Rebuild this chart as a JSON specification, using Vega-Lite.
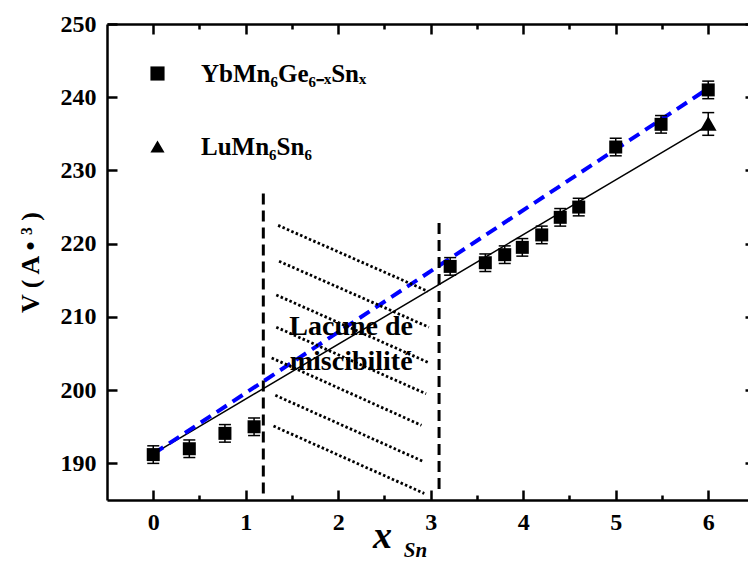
{
  "$schema": "https://vega.github.io/schema/vega-lite/v6.json",
  "width": 641,
  "height": 476,
  "autosize": "none",
  "padding": {"left": 107, "top": 24, "right": 0, "bottom": 62},
  "background": "white",
  "config": {
    "view": {"stroke": null},
    "font": "Liberation Serif",
    "axis": {
      "domainColor": "black",
      "domainWidth": 2.5,
      "tickColor": "black",
      "tickWidth": 2.5,
      "labelFont": "Liberation Serif",
      "labelFontWeight": "bold",
      "labelFontSize": 24,
      "labelColor": "black",
      "grid": false,
      "titleColor": "black",
      "titleFont": "Liberation Serif"
    }
  },
  "datasets": {
    "pts": [
      {"x": 0, "y": 191.2, "lo": 190.0, "hi": 192.4, "s": "YbMn₆Ge₆₋ₓSnₓ"},
      {"x": 0.39, "y": 192.0, "lo": 190.8, "hi": 193.2, "s": "YbMn₆Ge₆₋ₓSnₓ"},
      {"x": 0.775, "y": 194.1, "lo": 192.9, "hi": 195.3, "s": "YbMn₆Ge₆₋ₓSnₓ"},
      {"x": 1.09, "y": 195.0, "lo": 193.8, "hi": 196.2, "s": "YbMn₆Ge₆₋ₓSnₓ"},
      {"x": 3.21, "y": 216.9, "lo": 215.7, "hi": 218.1, "s": "YbMn₆Ge₆₋ₓSnₓ"},
      {"x": 3.59, "y": 217.4, "lo": 216.2, "hi": 218.6, "s": "YbMn₆Ge₆₋ₓSnₓ"},
      {"x": 3.8, "y": 218.5, "lo": 217.3, "hi": 219.7, "s": "YbMn₆Ge₆₋ₓSnₓ"},
      {"x": 3.99, "y": 219.5, "lo": 218.3, "hi": 220.7, "s": "YbMn₆Ge₆₋ₓSnₓ"},
      {"x": 4.2, "y": 221.2, "lo": 220.0, "hi": 222.4, "s": "YbMn₆Ge₆₋ₓSnₓ"},
      {"x": 4.4, "y": 223.6, "lo": 222.4, "hi": 224.8, "s": "YbMn₆Ge₆₋ₓSnₓ"},
      {"x": 4.6, "y": 225.0, "lo": 223.8, "hi": 226.2, "s": "YbMn₆Ge₆₋ₓSnₓ"},
      {"x": 5.0, "y": 233.2, "lo": 232.0, "hi": 234.4, "s": "YbMn₆Ge₆₋ₓSnₓ"},
      {"x": 5.49, "y": 236.3, "lo": 235.1, "hi": 237.5, "s": "YbMn₆Ge₆₋ₓSnₓ"},
      {"x": 6.0, "y": 241.0, "lo": 239.8, "hi": 242.2, "s": "YbMn₆Ge₆₋ₓSnₓ"},
      {"x": 6.0, "y": 236.4, "lo": 234.8, "hi": 237.9, "s": "LuMn₆Sn₆"}
    ],
    "blue": [{"x": 0, "y": 191.3}, {"x": 6, "y": 241.2}],
    "black": [{"x": 0, "y": 191.3}, {"x": 6, "y": 236.2}],
    "vlines": [
      {"x": 1.19, "y": 185.9, "y2": 226.9},
      {"x": 3.09, "y": 186.5, "y2": 223.1}
    ],
    "hatch": [
      {"x": 1.35, "y": 222.5, "x2": 2.97, "y2": 213.5},
      {"x": 1.36, "y": 217.6, "x2": 2.98, "y2": 208.6},
      {"x": 1.33, "y": 213.0, "x2": 2.97, "y2": 203.8},
      {"x": 1.33, "y": 208.6, "x2": 2.95, "y2": 199.5},
      {"x": 1.28, "y": 204.4, "x2": 2.90, "y2": 195.2},
      {"x": 1.32, "y": 199.3, "x2": 2.93, "y2": 190.2},
      {"x": 1.30, "y": 195.1, "x2": 2.93, "y2": 185.9}
    ],
    "notes": [
      {"x": 2.14, "y": 208.6, "t": "Lacune de"},
      {"x": 2.14, "y": 203.8, "t": "miscibilité"}
    ]
  },
  "layer": [
    {
      "layer": [
        {
          "data": {"name": "black"},
          "mark": {"type": "line", "color": "black", "strokeWidth": 1.5},
          "encoding": {
            "x": {
              "field": "x", "type": "quantitative",
              "scale": {"domain": [-0.5, 6.43], "nice": false, "zero": false},
              "axis": {
                "orient": "bottom",
                "values": [0, 0.5, 1, 1.5, 2, 2.5, 3, 3.5, 4, 4.5, 5, 5.5, 6],
                "labelExpr": "datum.value % 1 === 0 ? format(datum.value, 'd') : ''",
                "labelFont": "Liberation Serif",
                "labelFontWeight": "bold",
                "labelFontSize": 24,
                "tickSize": {"condition": {"test": "datum.value % 1 === 0", "value": -10}, "value": -5},
                "labelPadding": 20,
                "title": "x",
                "titleFontSize": 38,
                "titleFontStyle": "italic",
                "titleFontWeight": "bold",
                "titleX": 275,
                "titleY": 47,
                "titleAlign": "center",
                "titleBaseline": "alphabetic"
              }
            },
            "y": {
              "field": "y", "type": "quantitative",
              "scale": {"domain": [185, 250], "nice": false, "zero": false},
              "axis": {
                "orient": "left",
                "values": [190, 195, 200, 205, 210, 215, 220, 225, 230, 235, 240, 245, 250],
                "labelExpr": "datum.value % 10 === 0 ? format(datum.value, 'd') : ''",
                "labelFont": "Liberation Serif",
                "labelFontWeight": "bold",
                "labelFontSize": 24,
                "tickSize": {"condition": {"test": "datum.value % 10 === 0", "value": -10}, "value": -5},
                "labelPadding": 21,
                "title": "V ( A • ³ )",
                "titleFontSize": 26,
                "titleFontWeight": "bold",
                "titleAngle": -90,
                "titleX": -77,
                "titleY": 238,
                "titleAlign": "center",
                "titleBaseline": "middle"
              }
            }
          }
        },
        {
          "data": {"name": "blue"},
          "mark": {"type": "line", "color": "#0000ff", "strokeWidth": 4, "strokeDash": [12, 7]},
          "encoding": {
            "x": {"field": "x", "type": "quantitative", "scale": {"domain": [-0.5, 6.43], "nice": false, "zero": false}},
            "y": {"field": "y", "type": "quantitative", "scale": {"domain": [185, 250], "nice": false, "zero": false}}
          }
        },
        {
          "data": {"name": "vlines"},
          "mark": {"type": "rule", "color": "black", "strokeWidth": 3, "strokeDash": [11, 6]},
          "encoding": {
            "x": {"field": "x", "type": "quantitative", "scale": {"domain": [-0.5, 6.43], "nice": false, "zero": false}},
            "y": {"field": "y", "type": "quantitative", "scale": {"domain": [185, 250], "nice": false, "zero": false}},
            "y2": {"field": "y2"}
          }
        },
        {
          "data": {"name": "hatch"},
          "mark": {"type": "rule", "color": "black", "strokeWidth": 2.8, "strokeDash": [2.5, 2.3]},
          "encoding": {
            "x": {"field": "x", "type": "quantitative", "scale": {"domain": [-0.5, 6.43], "nice": false, "zero": false}},
            "y": {"field": "y", "type": "quantitative", "scale": {"domain": [185, 250], "nice": false, "zero": false}},
            "x2": {"field": "x2"},
            "y2": {"field": "y2"}
          }
        },
        {
          "data": {"name": "pts"},
          "mark": {"type": "rule", "color": "black", "strokeWidth": 1.5},
          "encoding": {
            "x": {"field": "x", "type": "quantitative", "scale": {"domain": [-0.5, 6.43], "nice": false, "zero": false}},
            "y": {"field": "lo", "type": "quantitative", "scale": {"domain": [185, 250], "nice": false, "zero": false}},
            "y2": {"field": "hi"}
          }
        },
        {
          "data": {"name": "pts"},
          "mark": {"type": "tick", "orient": "horizontal", "color": "black", "size": 12, "thickness": 1.5, "opacity": 1},
          "encoding": {
            "x": {"field": "x", "type": "quantitative", "scale": {"domain": [-0.5, 6.43], "nice": false, "zero": false}},
            "y": {"field": "lo", "type": "quantitative", "scale": {"domain": [185, 250], "nice": false, "zero": false}}
          }
        },
        {
          "data": {"name": "pts"},
          "mark": {"type": "tick", "orient": "horizontal", "color": "black", "size": 12, "thickness": 1.5, "opacity": 1},
          "encoding": {
            "x": {"field": "x", "type": "quantitative", "scale": {"domain": [-0.5, 6.43], "nice": false, "zero": false}},
            "y": {"field": "hi", "type": "quantitative", "scale": {"domain": [185, 250], "nice": false, "zero": false}}
          }
        },
        {
          "data": {"name": "pts"},
          "mark": {"type": "point", "filled": true, "color": "black", "opacity": 1},
          "encoding": {
            "x": {"field": "x", "type": "quantitative", "scale": {"domain": [-0.5, 6.43], "nice": false, "zero": false}},
            "y": {"field": "y", "type": "quantitative", "scale": {"domain": [185, 250], "nice": false, "zero": false}},
            "size": {
              "condition": {"test": "datum.s === 'LuMn₆Sn₆'", "value": 280},
              "value": 169
            },
            "shape": {
              "field": "s", "type": "nominal",
              "scale": {"domain": ["YbMn₆Ge₆₋ₓSnₓ", "LuMn₆Sn₆"], "range": ["square", "triangle-up"]},
              "legend": {
                "orient": "none",
                "legendX": 38,
                "legendY": 37,
                "title": null,
                "padding": 0,
                "labelFont": "Liberation Serif",
                "labelFontSize": 25,
                "labelFontWeight": "bold",
                "labelColor": "black",
                "labelOffset": 31,
                "labelLimit": 400,
                "rowPadding": 47,
                "symbolSize": 200,
                "symbolFillColor": "black",
                "symbolStrokeColor": "black",
                "symbolStrokeWidth": 0,
                "symbolOpacity": 1
              }
            }
          }
        },
        {
          "data": {"name": "notes"},
          "mark": {"type": "text", "font": "Liberation Serif", "fontWeight": "bold", "fontSize": 28, "color": "black", "align": "center", "baseline": "middle"},
          "encoding": {
            "x": {"field": "x", "type": "quantitative", "scale": {"domain": [-0.5, 6.43], "nice": false, "zero": false}},
            "y": {"field": "y", "type": "quantitative", "scale": {"domain": [185, 250], "nice": false, "zero": false}},
            "text": {"field": "t"}
          }
        }
      ]
    },
    {
      "data": {"name": "blue"},
      "mark": {"type": "point", "opacity": 0},
      "encoding": {
        "x": {
          "field": "x", "type": "quantitative",
          "scale": {"domain": [-0.5, 6.43], "nice": false, "zero": false},
          "axis": {
            "orient": "top",
            "values": [0, 0.5, 1, 1.5, 2, 2.5, 3, 3.5, 4, 4.5, 5, 5.5, 6],
            "labels": false,
            "tickSize": {"condition": {"test": "datum.value % 1 === 0", "value": -10}, "value": -5},
            "title": "Sn",
            "titleFontSize": 21,
            "titleFontStyle": "italic",
            "titleFontWeight": "bold",
            "titleX": 308,
            "titleY": 532,
            "titleAlign": "center",
            "titleBaseline": "alphabetic"
          }
        },
        "y": {
          "field": "y", "type": "quantitative",
          "scale": {"domain": [185, 250], "nice": false, "zero": false},
          "axis": {
            "orient": "right",
            "values": [190, 200, 210, 220, 230, 240, 250],
            "labels": false,
            "domain": false,
            "tickSize": -3,
            "title": null
          }
        }
      }
    }
  ],
  "resolve": {"axis": {"x": "independent", "y": "independent"}}
}
